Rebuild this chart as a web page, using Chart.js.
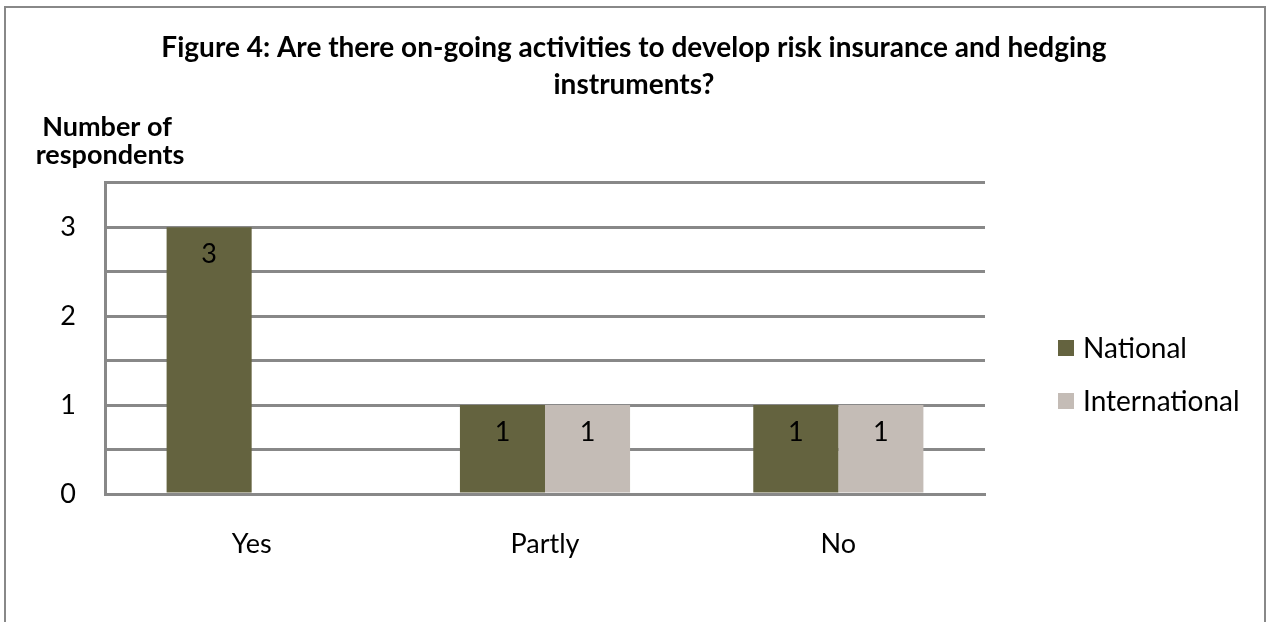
<!DOCTYPE html>
<html>
<head>
<meta charset="utf-8">
<script src="https://cdn.jsdelivr.net/npm/chart.js@4"></script>
<style>
  body { margin: 0; background: #fff; overflow: hidden; }
  #wrap { position: relative; width: 1268px; height: 622px; }
  #frame { position: absolute; left: 4px; top: 6px; width: 1258px; height: 700px; border: 2px solid #888; pointer-events: none; }
</style>
</head>
<body>
<div id="wrap">
  <canvas id="barChart" width="1268" height="622"></canvas>
  <div id="frame"></div>
</div>
<script>
const categories = ['Yes', 'Partly', 'No'];
const nationalValues = [3, 1, 1];
const internationalValues = [0, 1, 1];
const seriesNames = ['National', 'International'];
const yTitleLines = ['Number of', 'respondents'];
const titleLines = ['Figure 4: Are there on-going activities to develop risk insurance and hedging', 'instruments?'];

Chart.defaults.font.family = 'Lato';
Chart.defaults.color = '#000';

// value labels inside the top of each bar
const barLabels = {
  id: 'barLabels',
  afterDatasetsDraw(chart) {
    const ctx = chart.ctx;
    ctx.save();
    ctx.font = '27px Lato';
    ctx.fillStyle = '#000';
    ctx.textAlign = 'center';
    ctx.textBaseline = 'middle';
    chart.data.datasets.forEach((ds, i) => {
      chart.getDatasetMeta(i).data.forEach((bar, j) => {
        if (!ds.data[j]) return;
        ctx.fillText(ds.data[j], bar.x, bar.y + 27);
      });
    });
    ctx.restore();
  }
};

// horizontal axis title above the plot + legend on the right
const extras = {
  id: 'extras',
  afterDraw(chart) {
    const ctx = chart.ctx;
    const area = chart.chartArea;
    ctx.save();
    ctx.font = 'bold 27px Lato';
    ctx.fillStyle = '#000';
    ctx.textAlign = 'center';
    ctx.textBaseline = 'middle';
    ctx.fillText(yTitleLines[0], area.left + 2, area.top - 56);
    ctx.fillText(yTitleLines[1], area.left + 5, area.top - 28);

    ctx.font = '28px Lato';
    ctx.textAlign = 'left';
    const rows = [348, 401];
    chart.data.datasets.forEach((ds, i) => {
      ctx.fillStyle = ds.backgroundColor;
      ctx.fillRect(1058, rows[i] - 8, 16, 16);
      ctx.fillStyle = '#000';
      ctx.fillText(ds.label, 1083, rows[i] + 1);
    });
    ctx.restore();
  }
};

new Chart(document.getElementById('barChart'), {
  type: 'bar',
  data: {
    labels: categories,
    datasets: [
      { label: seriesNames[0], data: nationalValues, backgroundColor: '#64633f' },
      { label: seriesNames[1], data: internationalValues, backgroundColor: '#c4bcb6' }
    ]
  },
  options: {
    responsive: false,
    animation: false,
    layout: { padding: 0 },
    datasets: { bar: { barPercentage: 1, categoryPercentage: 0.58 } },
    plugins: {
      legend: { display: false },
      tooltip: { enabled: false },
      title: {
        display: true,
        text: titleLines,
        font: { size: 28, weight: 'bold', lineHeight: 1.3 },
        color: '#000',
        padding: { top: 30, bottom: 80 }
      }
    },
    scales: {
      x: {
        grid: { display: false, drawTicks: false },
        border: { color: '#888', width: 3 },
        ticks: { font: { size: 27 }, padding: 34 },
        afterFit(scale) { scale.height = 128; }
      },
      y: {
        min: 0,
        max: 3.5,
        grid: { color: '#888', lineWidth: 3, drawTicks: false },
        border: { color: '#888', width: 3 },
        ticks: {
          stepSize: 0.5,
          font: { size: 27 },
          padding: 29,
          callback: v => (v % 1 === 0 ? v : '')
        },
        afterFit(scale) { scale.width = 105; }
      },
      // empty right-hand box that keeps room for the legend
      side: {
        position: 'right',
        grid: { display: false, drawTicks: false },
        border: { display: false },
        ticks: { display: false },
        afterFit(scale) { scale.width = 283; }
      }
    }
  },
  plugins: [barLabels, extras]
});
</script>
</body>
</html>
